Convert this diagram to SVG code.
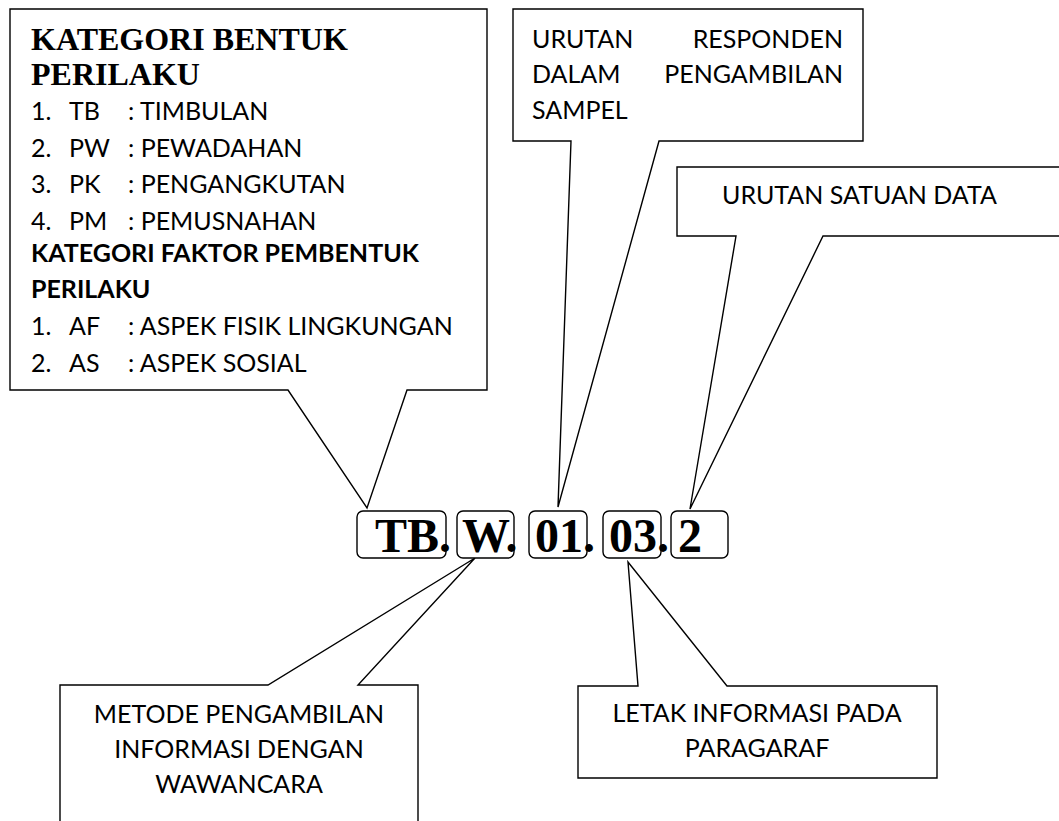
<svg xmlns="http://www.w3.org/2000/svg" width="1059" height="821" viewBox="0 0 1059 821">
<style>
.co{fill:#fff;stroke:#000;stroke-width:1.4;stroke-linejoin:miter}
.bx{fill:#fff;stroke:#000;stroke-width:1.4}
.t{font-family:Lato,"Liberation Sans",sans-serif;font-size:25px;fill:#000}
.b{font-weight:bold}
.s{font-family:"Liberation Serif",serif;font-weight:bold;font-size:32px;fill:#000}
.code{font-family:"Liberation Serif",serif;font-weight:bold;font-size:48px;fill:#000}
</style>
<rect width="1059" height="821" fill="#fff"/>
<g id="connectors">
</g>
<g id="callout-kategori">
<path class="co" d="M10,9 H487 V390 H407 L367,508 L288,390 H10 Z"/>
<text class="s" x="31" y="50">KATEGORI BENTUK</text>
<text class="s" x="31" y="85">PERILAKU</text>
<g class="t">
<text x="31" y="120">1.</text><text x="69" y="120">TB</text><text x="128" y="120">: TIMBULAN</text>
<text x="31" y="157">2.</text><text x="69" y="157">PW</text><text x="128" y="157">: PEWADAHAN</text>
<text x="31" y="193">3.</text><text x="69" y="193">PK</text><text x="128" y="193">: PENGANGKUTAN</text>
<text x="31" y="230">4.</text><text x="69" y="230">PM</text><text x="128" y="230">: PEMUSNAHAN</text>
<text class="b" x="31" y="262">KATEGORI FAKTOR PEMBENTUK</text>
<text class="b" x="31" y="298">PERILAKU</text>
<text x="31" y="335">1.</text><text x="69" y="335">AF</text><text x="128" y="335">: ASPEK FISIK LINGKUNGAN</text>
<text x="31" y="372">2.</text><text x="69" y="372">AS</text><text x="128" y="372">: ASPEK SOSIAL</text>
</g>
</g>
<g id="callout-responden">
<path class="co" d="M513,9 H863 V141 H659 L558,507 L571,141 H513 Z"/>
<g class="t">
<text x="532" y="48">URUTAN</text><text x="843" y="48" text-anchor="end">RESPONDEN</text>
<text x="532" y="83">DALAM</text><text x="843" y="83" text-anchor="end">PENGAMBILAN</text>
<text x="532" y="119">SAMPEL</text>
</g>
</g>
<g id="callout-satuan">
<path class="co" d="M677,167 H1070 V236 H823 L690,509 L736,236 H677 Z"/>
<text class="t" x="722" y="204">URUTAN SATUAN DATA</text>
</g>
<g id="callout-metode">
<path class="co" d="M60,685 H268 L475,558 L358,685 H418 V830 H60 Z"/>
<g class="t" text-anchor="middle">
<text x="239" y="723">METODE PENGAMBILAN</text>
<text x="239" y="758">INFORMASI DENGAN</text>
<text x="239" y="793">WAWANCARA</text>
</g>
</g>
<g id="callout-letak">
<path class="co" d="M578,686 H638 L628,562 L727,686 H937 V778 H578 Z"/>
<g class="t" text-anchor="middle">
<text x="757" y="722">LETAK INFORMASI PADA</text>
<text x="757" y="757">PARAGARAF</text>
</g>
</g>
<g id="code">
<rect class="bx" x="357" y="511" width="89" height="47" rx="6"/>
<rect class="bx" x="457" y="511" width="57" height="47" rx="6"/>
<rect class="bx" x="529" y="511" width="58" height="47" rx="6"/>
<rect class="bx" x="603" y="511" width="58" height="47" rx="6"/>
<rect class="bx" x="671" y="511" width="57" height="47" rx="6"/>
<text class="code" x="375" y="552">TB.</text>
<text class="code" x="462" y="552">W.</text>
<text class="code" x="535" y="552">01.</text>
<text class="code" x="609" y="552">03.</text>
<text class="code" x="678" y="552">2</text>
</g>
</svg>
